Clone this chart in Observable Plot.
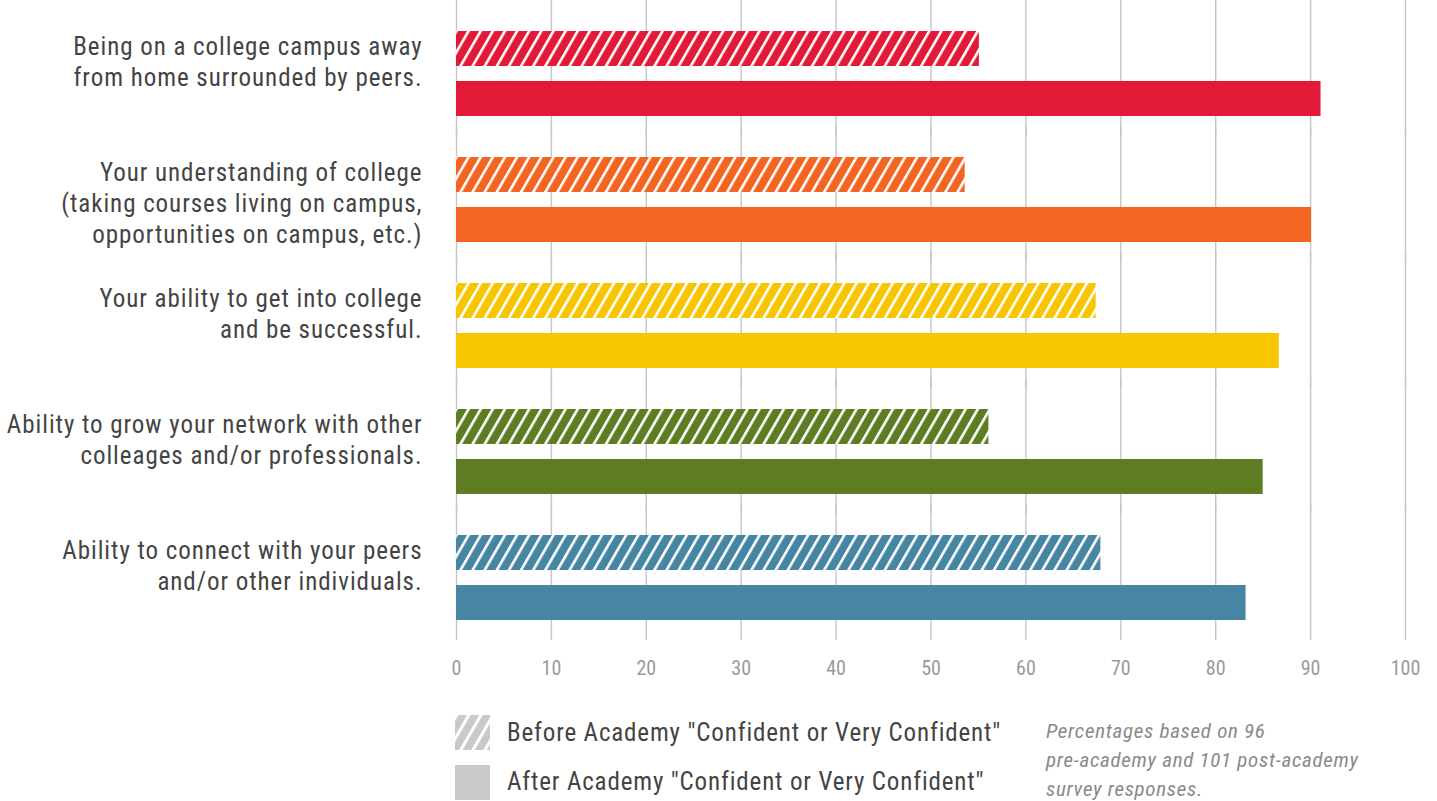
<!DOCTYPE html>
<html>
<head>
<meta charset="utf-8">
<script src="https://cdn.jsdelivr.net/npm/d3@7"></script>
<script src="https://cdn.jsdelivr.net/npm/@observablehq/plot@0.6"></script>
<style>
  html, body { margin: 0; padding: 0; background: #fff; }
  body { font-family: "Liberation Sans Narrow", "Roboto Condensed", "DejaVu Sans Condensed", "Arial Narrow", sans-serif; }
  #wrap { position: relative; width: 1437px; height: 801px; overflow: hidden; }
  #chart svg { display: block; }
  .leg { position: absolute; font-size: 25px; letter-spacing: 0.85px; color: #444; white-space: nowrap; line-height: 30px; }
  .sw { position: absolute; width: 35px; height: 35px; }
  #note { position: absolute; left: 1046px; top: 717px; font-size: 21px; letter-spacing: 0.7px; line-height: 29px; color: #8a8a8a; font-style: italic; }
</style>
</head>
<body>
<div id="wrap">
  <div id="chart"></div>
  <svg class="sw" style="left:455px;top:715px" width="35" height="35">
    <defs>
      <pattern id="leg-hatch" patternUnits="userSpaceOnUse" width="10.5" height="10" patternTransform="rotate(30)">
        <rect width="10.5" height="10" fill="#c8c9cb"></rect>
        <rect x="0" width="3" height="10" fill="#fff"></rect>
      </pattern>
    </defs>
    <rect width="35" height="35" fill="url(#leg-hatch)"></rect>
  </svg>
  <div class="leg" style="left:507px;top:718px">Before Academy "Confident or Very Confident"</div>
  <svg class="sw" style="left:455px;top:765px" width="35" height="35">
    <rect width="35" height="35" fill="#c8c9cb"></rect>
  </svg>
  <div class="leg" style="left:507px;top:767px">After Academy "Confident or Very Confident"</div>
  <div id="note">Percentages based on 96<br>pre-academy and 101 post-academy<br>survey responses.</div>
</div>
<script>
const categories = [
  "Being on a college campus away\nfrom home surrounded by peers.",
  "Your understanding of college\n(taking courses living on campus,\nopportunities on campus, etc.)",
  "Your ability to get into college\nand be successful.",
  "Ability to grow your network with other\ncolleages and/or professionals.",
  "Ability to connect with your peers\nand/or other individuals."
];
const seriesNames = ["Before", "After"];
const beforeValues = [55.1, 53.6, 67.4, 56.1, 67.9];
const afterValues = [91.1, 90.1, 86.7, 85.0, 83.2];
const categoryColors = ["#e31a37", "#f26522", "#f7c600", "#5e7d23", "#4786a3"];
const xTicks = [0, 10, 20, 30, 40, 50, 60, 70, 80, 90, 100];

const rows = [];
categories.forEach((c, i) => {
  rows.push({category: c, series: "Before", value: beforeValues[i], fill: `url(#hatch-${i})`});
  rows.push({category: c, series: "After", value: afterValues[i], fill: categoryColors[i]});
});

const font = '"Liberation Sans Narrow", "Roboto Condensed", "DejaVu Sans Condensed", "Arial Narrow", sans-serif';

const chart = Plot.plot({
  width: 1437,
  height: 700,
  marginLeft: 456,
  marginRight: 32,
  marginTop: 10,
  marginBottom: 60,
  style: {fontFamily: font, background: "#fff"},
  x: {domain: [0, 100], axis: null},
  fy: {domain: categories, padding: 0, axis: null},
  y: {domain: seriesNames, paddingInner: 0.3, paddingOuter: 0.41, axis: null},
  color: {type: "identity"},
  marks: [
    Plot.ruleX(xTicks, {stroke: "#c6c6c6", strokeWidth: 1.4, insetTop: -10}),
    Plot.barX(rows, {fy: "category", y: "series", x: "value", fill: "fill"}),
    Plot.text(categories, {
      fy: d => d, y: () => "Before", text: d => d,
      frameAnchor: "left", textAnchor: "end", lineAnchor: "top",
      dx: -34, dy: -16, fontSize: 25, lineHeight: 31 / 25, fill: "#444"
    }),
    Plot.axisX(xTicks, {anchor: "bottom", tickSize: 0, tickPadding: 20, fontSize: 20, fill: "#9a9a9a", label: null})
  ]
});

const svg = d3.select(chart);
svg.selectAll("text").filter(function() { return this.closest("g[aria-label='text']"); }).style("letter-spacing", "0.95px");
const defs = svg.insert("defs", ":first-child");
categoryColors.forEach((c, i) => {
  const p = defs.append("pattern")
    .attr("id", `hatch-${i}`)
    .attr("patternUnits", "userSpaceOnUse")
    .attr("width", 10.5).attr("height", 10)
    .attr("patternTransform", "rotate(30)");
  p.append("rect").attr("width", 10.5).attr("height", 10).attr("fill", c);
  p.append("rect").attr("x", 0).attr("width", 2.6).attr("height", 10).attr("fill", "#fff");
});

document.getElementById("chart").appendChild(chart);
</script>
</body>
</html>
